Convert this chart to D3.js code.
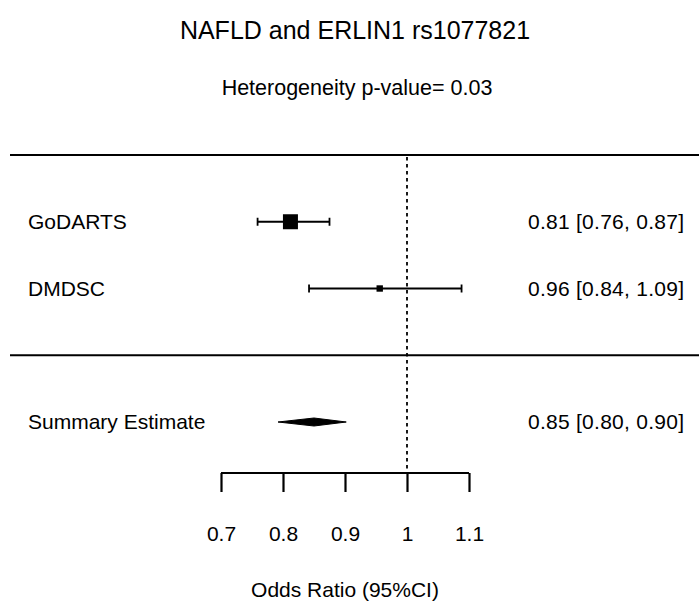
<!DOCTYPE html>
<html>
<head>
<meta charset="utf-8">
<script src="https://cdn.jsdelivr.net/npm/d3@7"></script>
<style>
  html, body { margin: 0; padding: 0; background: #fff; }
  svg { display: block; font-family: Arial, "Liberation Sans", sans-serif; }
</style>
</head>
<body>
<svg id="chart" width="699" height="602"></svg>
<script>
// ---- data ----
const title = "NAFLD and ERLIN1 rs1077821";
const subtitle = "Heterogeneity p-value= 0.03";
const axisTitle = "Odds Ratio (95%CI)";
const studies = ["GoDARTS", "DMDSC"];
const estimates = [0.812, 0.956];
const lowers = [0.759, 0.842];
const uppers = [0.875, 1.088];
const weights = [78.8, 21.2];
const studyLabels = ["0.81 [0.76, 0.87]", "0.96 [0.84, 1.09]"];
const summaryName = "Summary Estimate";
const summaryEstimate = 0.85;
const summaryLower = 0.792;
const summaryUpper = 0.902;
const summaryLabel = "0.85 [0.80, 0.90]";
const tickValues = [0.7, 0.8, 0.9, 1.0, 1.1];
const tickLabels = ["0.7", "0.8", "0.9", "1", "1.1"];
const nullValue = 1;

// ---- layout ----
const svg = d3.select("#chart");
const x = d3.scaleLinear().domain([0.7, 1.1]).range([221, 469]);
const y = d3.scaleLinear().domain([0, 4]).range([155, 422]);
const boxSize = d3.scalePow().exponent(0.65).domain([0, 78.8]).range([0, 15]);
const fontSize = 21;

svg.append("text").attr("x", 355).attr("y", 39).attr("text-anchor", "middle")
  .attr("font-size", 25).text(title);
svg.append("text").attr("x", 357).attr("y", 95).attr("text-anchor", "middle")
  .attr("font-size", 21.5).text(subtitle);

// separator lines
[0, 3].forEach(r => {
  svg.append("line").attr("x1", 10).attr("x2", 699)
    .attr("y1", y(r)).attr("y2", y(r))
    .attr("stroke", "#000").attr("stroke-width", 2);
});

// null line
svg.append("line").attr("x1", x(nullValue)).attr("x2", x(nullValue))
  .attr("y1", y(0) + 2).attr("y2", 473)
  .attr("stroke", "#000").attr("stroke-width", 1.8)
  .attr("stroke-dasharray", "3.5,3.5");

// studies
studies.forEach((s, i) => {
  const yy = y(i + 1);
  const g = svg.append("g");
  g.append("text").attr("x", 28).attr("y", yy).attr("dy", "0.35em")
    .attr("font-size", fontSize).text(s);
  g.append("text").attr("x", 528).attr("y", yy).attr("dy", "0.35em")
    .attr("font-size", fontSize).attr("textLength", 156).text(studyLabels[i]);
  g.append("line").attr("x1", x(lowers[i])).attr("x2", x(uppers[i]))
    .attr("y1", yy).attr("y2", yy).attr("stroke", "#000").attr("stroke-width", 1.8);
  [lowers[i], uppers[i]].forEach(v => {
    g.append("line").attr("x1", x(v)).attr("x2", x(v))
      .attr("y1", yy - 4).attr("y2", yy + 4).attr("stroke", "#000").attr("stroke-width", 1.8);
  });
  const b = boxSize(weights[i]);
  g.append("rect").attr("x", x(estimates[i]) - b / 2).attr("y", yy - b / 2)
    .attr("width", b).attr("height", b).attr("fill", "#000");
});

// summary
const ys = y(4);
svg.append("text").attr("x", 28).attr("y", ys).attr("dy", "0.35em")
  .attr("font-size", fontSize).text(summaryName);
svg.append("text").attr("x", 528).attr("y", ys).attr("dy", "0.35em")
  .attr("font-size", fontSize).attr("textLength", 156).text(summaryLabel);
svg.append("path")
  .attr("d", d3.line()([[x(summaryLower), ys], [x(summaryEstimate), ys - 4],
                       [x(summaryUpper), ys], [x(summaryEstimate), ys + 4]]) + "Z")
  .attr("fill", "#000").attr("stroke", "#000").attr("stroke-width", 1);

// axis
const axisY = 473;
const axis = d3.axisBottom(x).tickValues(tickValues)
  .tickFormat((d, i) => tickLabels[i]).tickSize(19).tickPadding(34);
const ag = svg.append("g").attr("transform", `translate(0,${axisY})`).call(axis);
ag.select(".domain").attr("d", `M${x(0.7)},0H${x(1.1)}`).attr("stroke-width", 2.2);
ag.selectAll(".tick line").attr("stroke-width", 2.2);
ag.selectAll(".tick text").attr("font-size", fontSize)
  .attr("font-family", "Arial, 'Liberation Sans', sans-serif").attr("fill", "#000");

svg.append("text").attr("x", 345).attr("y", 597).attr("text-anchor", "middle")
  .attr("font-size", fontSize).text(axisTitle);
</script>
</body>
</html>
